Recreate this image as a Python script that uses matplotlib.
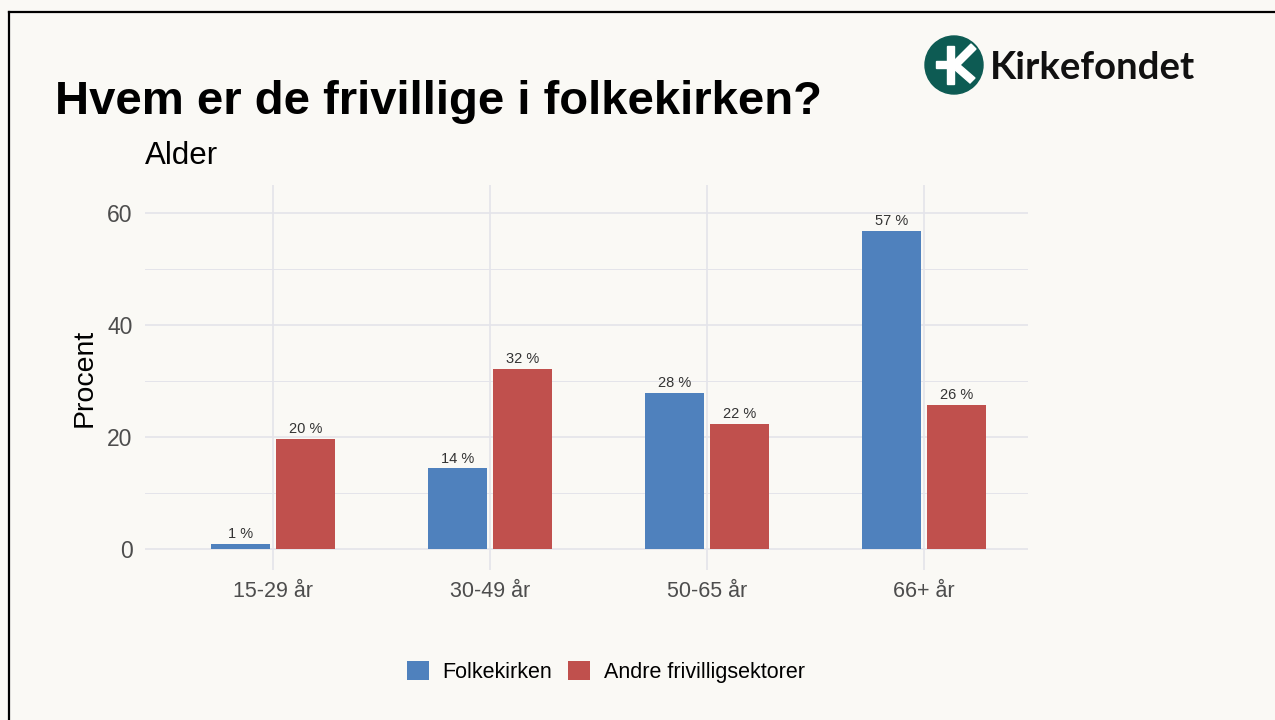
import matplotlib
matplotlib.use("Agg")
import matplotlib.pyplot as plt
import numpy as np
from matplotlib.lines import Line2D
from matplotlib.patches import Circle, Polygon

# ---- data ----
age_groups = ["15-29 år", "30-49 år", "50-65 år", "66+ år"]
folkekirken = [0.9, 14.4, 27.9, 56.8]
andre = [19.6, 32.1, 22.4, 25.8]
series_names = ["Folkekirken", "Andre frivilligsektorer"]
y_ticks = [0, 20, 40, 60]
y_minor = [10, 30, 50]

BG = "#faf9f5"
BLUE = "#4f81bd"
RED = "#c0504d"
GRID = "#e4e4ea"

plt.rcParams["font.family"] = ["Liberation Sans", "DejaVu Sans"]

W, H = 1275, 720
fig = plt.figure(figsize=(W / 100, H / 100), dpi=100, facecolor=BG)


def fx(px):
    return px / W


def fy(py):
    return 1 - py / H


# frame lines (left + top)
fig.add_artist(Line2D([fx(9), fx(9)], [fy(12), 0], color="black", lw=1.6,
                      transform=fig.transFigure))
fig.add_artist(Line2D([fx(9), 1], [fy(12), fy(12)], color="black", lw=1.6,
                      transform=fig.transFigure))

# title + subtitle
fig.text(fx(55), fy(114), "Hvem er de frivillige i folkekirken?", fontsize=34,
         fontweight="bold", color="black", ha="left", va="baseline")
fig.text(fx(145), fy(164), "Alder", fontsize=22.5, color="black",
         ha="left", va="baseline")

# logo
lax = fig.add_axes([fx(920), fy(100), fx(70), 70 / H])
lax.set_xlim(0, 70)
lax.set_ylim(0, 70)
lax.set_aspect("equal")
lax.axis("off")
lax.add_patch(Circle((34, 35), 29, color="#0d5b53"))
lax.add_patch(Polygon([(27, 54), (34, 54), (34, 16), (27, 16)], color="white"))
lax.add_patch(Polygon([(16, 39), (27, 39), (27, 32), (16, 32)], color="white"))
lax.add_patch(Polygon([(34, 39), (51, 56), (56, 51), (40, 35), (34, 35)], color="white"))
lax.add_patch(Polygon([(34, 35), (40, 35), (55, 22), (50, 17), (34, 31)], color="white"))
fig.text(fx(990), fy(79), "Kirkefondet", fontsize=27.5, fontweight="bold",
         family=["Lato", "DejaVu Sans"], color="#111111", ha="left", va="baseline")

# chart
ax = fig.add_axes([fx(145), fy(570), fx(1028) - fx(145), (570 - 185) / H])
ax.set_facecolor(BG)
x = np.arange(len(age_groups))
bw = 0.272
off = 0.15
b1 = ax.bar(x - off, folkekirken, bw, color=BLUE, label=series_names[0], zorder=3)
b2 = ax.bar(x + off, andre, bw, color=RED, label=series_names[1], zorder=3)
for bars, vals in ((b1, folkekirken), (b2, andre)):
    ax.bar_label(bars, labels=[f"{round(v)} %" for v in vals], padding=2,
                 fontsize=10.5, color="#333333")

ax.set_xlim(-0.592, 3.479)
ax.set_ylim(-3.75, 65)
ax.set_xticks(x)
ax.set_xticklabels(age_groups)
ax.set_yticks(y_ticks)
ax.set_yticks(y_minor, minor=True)
ax.tick_params(axis="both", which="both", length=0, labelsize=15.5,
               labelcolor="#4d4d4d")
ax.tick_params(axis="y", labelsize=16.5, pad=9)
ax.tick_params(axis="x", pad=8)
ax.grid(True, which="major", color=GRID, lw=1.2, zorder=0)
ax.grid(True, which="minor", axis="y", color=GRID, lw=0.7, zorder=0)
for s in ax.spines.values():
    s.set_visible(False)
ax.set_ylabel("Procent", fontsize=20.5, color="black", labelpad=7)

fig.legend(handles=[b1, b2], labels=series_names, loc="center",
           bbox_to_anchor=(fx(606), fy(672)), ncol=2, frameon=False,
           fontsize=15.5, handlelength=1.0, handleheight=1.0,
           handletextpad=0.65, columnspacing=0.75)

fig.savefig("out.png", dpi=100, facecolor=BG)
